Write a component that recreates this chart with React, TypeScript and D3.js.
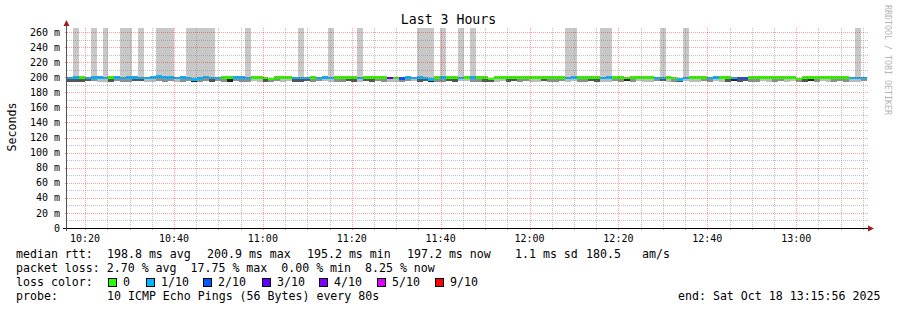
import React from "react";
import * as d3 from "d3";

// ---------- data ----------
const startTime = new Date(2025, 9, 18, 10, 15, 56);
const endTime = new Date(2025, 9, 18, 13, 15, 56);
const stepSeconds = 80;
const yMax = 265.3;

const yTickValues = [0, 20, 40, 60, 80, 100, 120, 140, 160, 180, 200, 220, 240, 260];
const yTickLabels = ["0", "20 m", "40 m", "60 m", "80 m", "100 m", "120 m", "140 m", "160 m", "180 m", "200 m", "220 m", "240 m", "260 m"];

// median rtt per 80 s step (ms)
const median = [
  199.3, 199.5, 199.6, 199.2, 199.4, 199.5, 199.3, 199.6, 199.4, 199.3, 199.5, 199.4, 199.2, 199.3, 199.5,
  200.9, 199.4, 199.5, 199.3, 199.6, 199.2, 197.0, 198.4, 200.3, 198.6, 198.8, 199.5, 199.6, 199.4, 199.5,
  199.3, 199.6, 199.5, 198.6, 197.4, 199.4, 199.5, 199.6, 199.2, 199.3, 198.7, 199.5, 199.3, 199.4, 199.2,
  199.6, 199.5, 199.4, 199.6, 199.3, 199.5, 199.6, 199.4, 199.5, 198.6, 199.2, 198.3, 199.4, 199.3, 199.5,
  199.3, 196.8, 199.5, 199.4, 199.6, 199.5, 199.3, 199.6, 199.4, 199.5, 199.6, 197.3, 199.5, 199.6, 199.4,
  199.5, 199.6, 199.5, 199.4, 199.6, 199.5, 199.4, 199.6, 199.5, 199.3, 199.4, 199.6, 199.5, 199.4, 199.6,
  199.2, 199.4, 199.6, 199.5, 199.3, 199.6, 199.5, 199.4, 199.6, 199.3, 199.2, 199.5, 198.9, 197.0, 199.3,
  199.6, 199.5, 199.4, 199.3, 199.4, 199.5, 199.6, 199.3, 199.2, 199.3, 199.5, 199.6, 199.4, 199.5, 199.6,
  199.4, 199.5, 199.6, 197.6, 199.5, 199.4, 199.5, 199.6, 199.5, 199.4, 199.5, 199.6, 199.3, 199.2, 199.0,
];

// lowest ping per step (ms) - bottom of the smoke
const smokeLow = [
  194.3, 193.9, 194.1, 194.5, 194.7, 194.1, 194.3, 193.9, 194.5, 194.3, 194.1, 194.6, 194.4, 194.0, 194.3,
  194.7, 194.2, 194.5, 194.3, 194.1, 194.4, 193.7, 194.1, 194.9, 194.3, 194.5, 194.2, 193.8, 194.6, 194.3,
  194.1, 194.5, 194.3, 193.9, 193.7, 194.4, 194.2, 194.6, 194.0, 194.3, 194.5, 194.1, 194.4, 194.7, 194.2,
  194.3, 194.0, 194.5, 194.1, 194.3, 194.6, 193.9, 194.4, 194.2, 193.8, 194.3, 194.1, 194.5, 194.7, 194.0,
  194.4, 193.7, 194.3, 194.1, 194.6, 194.2, 194.4, 194.5, 194.0, 194.3, 194.1, 193.9, 194.3, 194.5, 194.2,
  194.4, 194.1, 194.6, 194.3, 194.0, 194.5, 194.2, 194.3, 194.7, 194.1, 194.4, 194.3, 193.9, 194.5, 194.2,
  194.3, 194.1, 194.6, 193.8, 194.4, 194.2, 194.5, 194.3, 194.0, 194.4, 194.6, 194.1, 194.3, 193.9, 194.5,
  194.3, 194.1, 194.4, 194.2, 194.5, 194.3, 194.0, 194.6, 194.2, 194.4, 194.1, 194.3, 194.5, 194.1, 194.3,
  194.4, 194.2, 194.5, 194.1, 194.3, 194.6, 194.0, 194.4, 194.2, 194.3, 194.5, 194.1, 194.3, 194.2, 194.4,
];

// smoke density per step (0 light .. 3 dark)
const smokeDensity = [
  2, 2, 2, 2, 1, 0, 0, 2, 1, 1, 1, 2, 2, 0, 0,
  1, 1, 1, 0, 1, 1, 3, 1, 1, 2, 1, 1, 3, 1, 1,
  1, 0, 0, 2, 1, 1, 0, 0, 2, 2, 2, 1, 1, 0, 0,
  1, 1, 2, 2, 0, 2, 2, 1, 1, 0, 0, 1, 1, 0, 2,
  2, 3, 1, 1, 2, 2, 0, 0, 1, 1, 2, 2, 0, 0, 2,
  2, 1, 1, 0, 0, 2, 1, 1, 1, 0, 0, 1, 1, 2, 2,
  0, 0, 1, 1, 3, 1, 0, 0, 0, 1, 2, 0, 1, 2, 0,
  0, 0, 1, 1, 0, 0, 2, 3, 2, 2, 1, 1, 0, 0, 1,
  1, 0, 0, 1, 2, 3, 1, 0, 0, 1, 1, 1, 0, 0, 1,
];

// loss colour index per step (0 = no loss, 1 = 1/10, 2 = 2/10, 3 = 3/10 ...)
const lossLevel = [
  1, 1, 0, 1, 1, 1, 1, 0, 1, 1, 1, 1, 1, 1, 1,
  1, 1, 1, 1, 1, 1, 1, 1, 1, 1, 1, 0, 0, 1, 1,
  1, 0, 0, 0, 0, 0, 0, 0, 1, 1, 1, 0, 1, 1, 1,
  0, 0, 0, 0, 1, 0, 0, 0, 0, 3, 0, 2, 1, 1, 1,
  1, 1, 0, 1, 0, 0, 1, 0, 1, 0, 0, 0, 0, 0, 0,
  0, 0, 0, 0, 0, 0, 0, 0, 0, 1, 1, 0, 0, 0, 0,
  1, 1, 0, 0, 0, 0, 0, 0, 0, 1, 1, 0, 0, 1, 1,
  0, 0, 0, 1, 1, 0, 0, 1, 2, 2, 0, 0, 0, 0, 0,
  0, 0, 0, 0, 0, 0, 0, 0, 0, 0, 0, 0, 1, 1, 1,
];

// steps where lost pings push the smoke to the top of the graph
const lostPingSteps = [1, 4, 6, 9, 10, 12, 15, 16, 17, 20, 21, 22, 23, 24, 30, 39, 44, 49, 59, 60, 61, 63, 66, 68, 84, 85, 90, 91, 100, 104, 133];

const lossColors = ["#26ff00", "#00b8ff", "#0059ff", "#5e00ff", "#7e00ff", "#dd00ff", "#ff0000"];
const lossLabels = ["0", "1/10", "2/10", "3/10", "4/10", "5/10", "9/10"];
const smokeShades = ["#bcbcbc", "#8e8e8e", "#555555", "#222222"];

const medianLegend = ["198.8 ms avg", "200.9 ms max", "195.2 ms min", "197.2 ms now", "1.1 ms sd", "180.5", "am/s"];
const lossLegendLine = "packet loss: 2.70 % avg  17.75 % max  0.00 % min  8.25 % now";
const probeText = "10 ICMP Echo Pings (56 Bytes) every 80s";
const endText = "end: Sat Oct 18 13:15:56 2025";
const titleText = "Last 3 Hours";
const yAxisTitle = "Seconds";
const watermark = "RRDTOOL / TOBI OETIKER";

// ---------- chart ----------
const FONT = "'DejaVu Sans Mono', monospace";
const L = 67, T = 28, PW = 800, PH = 200;

export default function App() {
  const x = d3.scaleTime().domain([startTime, endTime]).range([L, L + PW]);
  const y = d3.scaleLinear().domain([0, yMax]).range([T + PH, T]);
  const fmt = d3.timeFormat("%H:%M");

  const n = Math.min(median.length, smokeLow.length, smokeDensity.length, lossLevel.length);
  const steps = d3.range(n).map((i) => {
    const t0 = new Date(+startTime + i * stepSeconds * 1000);
    const t1 = new Date(+startTime + (i + 1) * stepSeconds * 1000);
    return { i, t0, t1, med: median[i], lo: smokeLow[i], dens: smokeDensity[i], loss: lossLevel[i] };
  });

  const minorTimes = d3.timeMinute.every(5)!.range(startTime, endTime);
  const majorTimes = d3.timeMinute.every(20)!.range(startTime, endTime);
  const isMajor = (t: Date) => t.getMinutes() % 20 === 0;
  const yMinor = d3.range(10, yMax, 10).filter((v) => v % 20 !== 0);
  const yMajor = yTickValues.filter((v) => v > 0);

  const medianX = [107, 207, 307, 407, 515, 586, 642];
  const boxX = [108, 146, 203, 262, 319, 377, 435];

  const rowY = [258, 272, 286, 300];
  const fs = 11.6;

  return (
    <svg width={897} height={310} style={{ display: "block", position: "absolute", left: 0, top: 0, background: "#fff" }} fontFamily={FONT}>
      <rect x={0} y={0} width={897} height={310} fill="#ffffff" />
      {/* lost ping smoke to top */}
      {lostPingSteps.filter((i) => i < n).map((i) => {
        const s = steps[i];
        return (
          <rect key={"b" + i} x={x(s.t0)} width={x(s.t1) - x(s.t0)} y={T} height={y(s.med) - T}
            fill="#c8c8c8" shapeRendering="crispEdges" />
        );
      })}
      {/* smoke */}
      {steps.map((s) => (
        <rect key={"s" + s.i} x={x(s.t0)} width={x(s.t1) - x(s.t0)} y={y(s.med)} height={y(s.lo) - y(s.med)}
          fill={smokeShades[s.dens]} shapeRendering="crispEdges" />
      ))}
      {/* median */}
      {steps.map((s) => (
        <rect key={"m" + s.i} x={x(s.t0)} width={x(s.t1) - x(s.t0)} y={y(s.med) - 1.2} height={2.4}
          fill={lossColors[s.loss]} shapeRendering="crispEdges" />
      ))}

      {/* grid */}
      <g shapeRendering="crispEdges" strokeWidth={1} strokeDasharray="1 1">
        {yMinor.map((v) => (
          <line key={"ym" + v} x1={L} x2={L + PW + 1} y1={Math.round(y(v)) + 0.5} y2={Math.round(y(v)) + 0.5} stroke="rgba(140,140,140,0.55)" />
        ))}
        {yMajor.map((v) => (
          <line key={"yM" + v} x1={L} x2={L + PW + 1} y1={Math.round(y(v)) + 0.5} y2={Math.round(y(v)) + 0.5} stroke="rgba(255,0,0,0.38)" />
        ))}
        {minorTimes.filter((t) => !isMajor(t)).map((t) => (
          <line key={"xm" + +t} x1={Math.round(x(t)) + 0.5} x2={Math.round(x(t)) + 0.5} y1={T} y2={T + PH} stroke="rgba(140,140,140,0.55)" />
        ))}
        {majorTimes.map((t) => (
          <line key={"xM" + +t} x1={Math.round(x(t)) + 0.5} x2={Math.round(x(t)) + 0.5} y1={T} y2={T + PH} stroke="rgba(255,0,0,0.38)" />
        ))}
      </g>
      {/* small ticks */}
      <g shapeRendering="crispEdges">
        {minorTimes.map((t) => (
          <line key={"xt" + +t} x1={Math.round(x(t)) + 0.5} x2={Math.round(x(t)) + 0.5} y1={T + PH} y2={T + PH + 2}
            stroke={isMajor(t) ? "rgba(255,0,0,0.5)" : "rgba(140,140,140,0.6)"} />
        ))}
        {yTickValues.map((v) => (
          <line key={"yt" + v} x1={L - 2} x2={L} y1={Math.round(y(v)) + 0.5} y2={Math.round(y(v)) + 0.5}
            stroke="rgba(255,0,0,0.5)" />
        ))}
      </g>

      {/* axes */}
      <g shapeRendering="crispEdges">
        <line x1={63} x2={870} y1={T + PH + 0.5} y2={T + PH + 0.5} stroke="#000" />
        <line x1={L - 0.5} x2={L - 0.5} y1={T + PH + 3} y2={24} stroke="#555" />
      </g>
      <path d={`M${L - 3.5},26 L${L - 0.5},20 L${L + 2.5},26 Z`} fill="#a01d1d" />
      <path d={`M868,${T + PH - 2.5} L874,${T + PH + 0.5} L868,${T + PH + 3.5} Z`} fill="#a01d1d" />

      {/* y tick labels */}
      {yTickValues.map((v, k) => (
        <text key={"yl" + v} x={60} y={y(v) + 3.6} fontSize={10} textAnchor="end" fill="#000">{yTickLabels[k]}</text>
      ))}
      {/* x tick labels */}
      {majorTimes.map((t) => (
        <text key={"xl" + +t} x={x(t)} y={241.5} fontSize={10} textAnchor="middle" fill="#000">{fmt(t)}</text>
      ))}

      {/* title */}
      <text x={448.5} y={24} fontSize={13.2} textAnchor="middle" fill="#000">{titleText}</text>
      <text transform="translate(15.5,127) rotate(-90)" fontSize={fs} textAnchor="middle" fill="#000">{yAxisTitle}</text>
      <text transform="translate(885,5) rotate(90)" fontSize={8.3} fill="#b4b4b4">{watermark}</text>

      {/* legend */}
      <g fontSize={fs} fill="#000">
        <text x={16} y={rowY[0]}>median rtt:</text>
        {medianLegend.map((s, k) => (
          <text key={"ml" + k} x={medianX[k]} y={rowY[0]}>{s}</text>
        ))}
        <text x={16} y={rowY[1]} style={{ whiteSpace: "pre" }} xmlSpace="preserve">{lossLegendLine}</text>
        <text x={16} y={rowY[2]}>loss color:</text>
        {lossLabels.map((s, k) => (
          <g key={"lc" + k}>
            <rect x={boxX[k] + 0.5} y={278.5} width={8} height={8} fill={lossColors[k]} stroke="#000" strokeWidth={1} shapeRendering="crispEdges" />
            <text x={boxX[k] + 15} y={rowY[2]}>{s}</text>
          </g>
        ))}
        <text x={16} y={rowY[3]}>probe:</text>
        <text x={107} y={rowY[3]}>{probeText}</text>
        <text x={678} y={rowY[3]}>{endText}</text>
      </g>
    </svg>
  );
}
